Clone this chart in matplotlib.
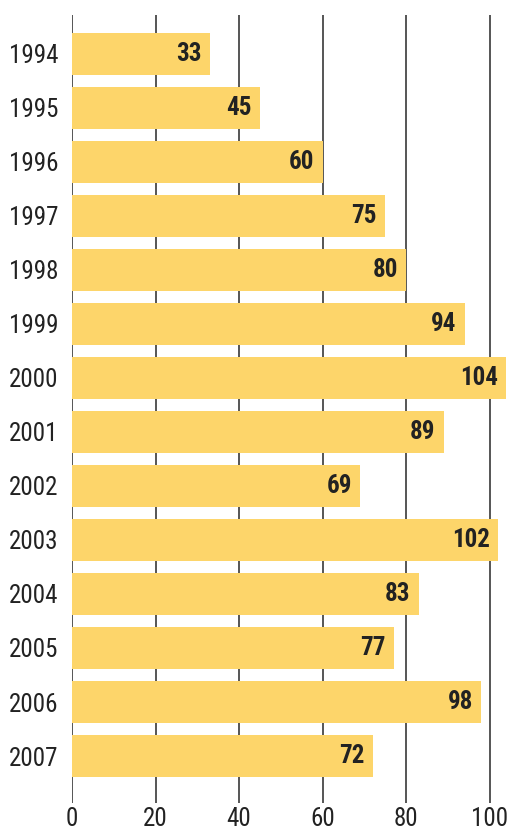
import matplotlib.pyplot as plt

years = ['1994', '1995', '1996', '1997', '1998', '1999', '2000',
         '2001', '2002', '2003', '2004', '2005', '2006', '2007']
values = [33, 45, 60, 75, 80, 94, 104, 89, 69, 102, 83, 77, 98, 72]
xticks = [0, 20, 40, 60, 80, 100]

plt.rcParams['font.family'] = ['Roboto Condensed', 'DejaVu Sans']

fig = plt.figure(figsize=(5.12, 8.31), dpi=100)
ax = fig.add_axes([72 / 512, 28 / 831, 438.6 / 512, 788 / 831])

pos = range(len(years))
ax.barh(pos, values, height=0.78, color='#fdd56a', zorder=2)
for x in xticks:
    ax.axvline(x, color='#555555', linewidth=1.4, zorder=1)

# value labels sit inside the bar ends
for i, v in zip(pos, values):
    ax.text(v - 2, i, str(v), ha='right', va='center', fontsize=18,
            fontweight='bold', color='#222222', zorder=3)

ax.set_xlim(0, 105)
ax.set_ylim(13.87, -0.72)
ax.set_yticks(list(pos))
ax.set_yticklabels(years, fontsize=18, color='#222222')
ax.set_xticks(xticks)
ax.set_xticklabels([str(x) for x in xticks], fontsize=18, color='#222222')
ax.tick_params(length=0)
ax.tick_params(axis='y', pad=10)
ax.tick_params(axis='x', pad=3)
for s in ax.spines.values():
    s.set_visible(False)

fig.savefig('out.png', dpi=100)
